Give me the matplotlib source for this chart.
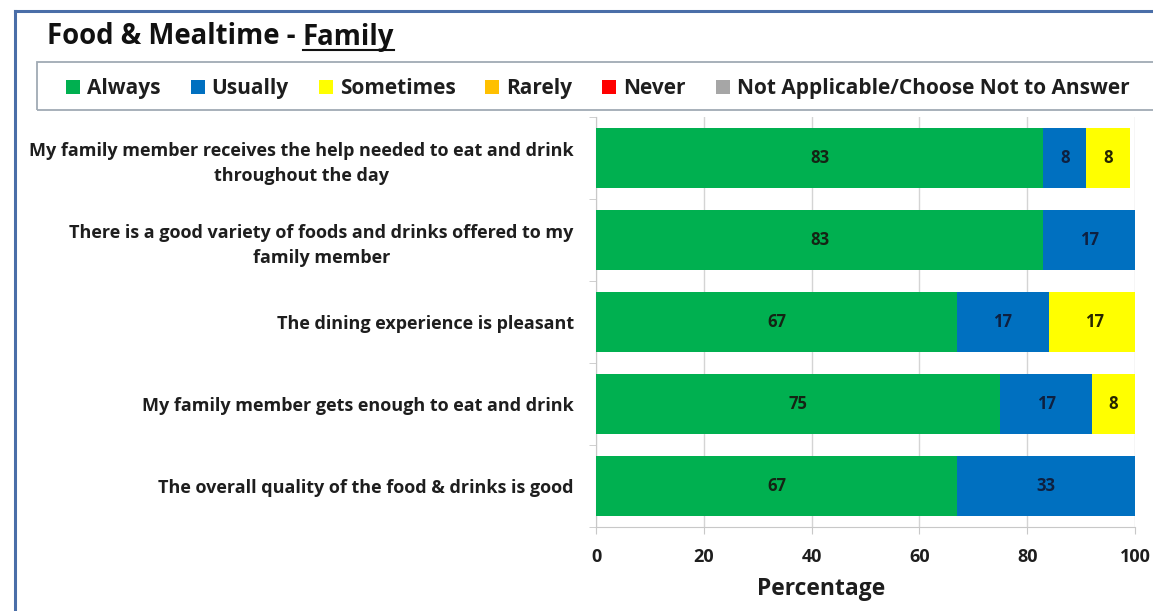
import matplotlib.pyplot as plt
from matplotlib.patches import Rectangle
from matplotlib.lines import Line2D
import numpy as np

questions = [
    "My family member receives the help needed to eat and drink\nthroughout the day",
    "There is a good variety of foods and drinks offered to my\nfamily member",
    "The dining experience is pleasant",
    "My family member gets enough to eat and drink",
    "The overall quality of the food & drinks is good",
]
responses = ["Always", "Usually", "Sometimes", "Rarely", "Never",
             "Not Applicable/Choose Not to Answer"]
always = [83, 83, 67, 75, 67]
usually = [8, 17, 17, 17, 33]
sometimes = [8, 0, 17, 8, 0]
rarely = [0, 0, 0, 0, 0]
never = [0, 0, 0, 0, 0]
not_applicable = [0, 0, 0, 0, 0]

colors = ["#00B050", "#0070C0", "#FFFF00", "#FFC000", "#FF0000", "#A6A6A6"]
label_colors = ["#142414", "#0E2040", "#262600", "#262600", "#262600", "#262600"]
W, H = 1153, 611


def px(x, y):
    # pixel position from the top-left corner -> figure fraction
    return x / W, 1 - y / H


plt.rcParams["font.family"] = ["Open Sans", "DejaVu Sans"]
plt.rcParams["font.weight"] = "bold"

fig = plt.figure(figsize=(W / 100, H / 100), dpi=100)
ax = fig.add_axes([596 / W, 1 - 527 / H, (1135 - 596) / W, (527 - 117) / H])

series = [always, usually, sometimes, rarely, never, not_applicable]
ypos = np.arange(len(questions))
left = np.zeros(len(questions))
for vals, col, lc in zip(series, colors, label_colors):
    vals = np.array(vals, dtype=float)
    bars = ax.barh(ypos, vals, left=left, height=0.73, color=col, zorder=3)
    for bar, v in zip(bars, vals):
        if v > 0:
            ax.text(bar.get_x() + bar.get_width() / 2, bar.get_y() + bar.get_height() / 2,
                    f"{v:.0f}", ha="center", va="center", fontsize=12,
                    fontweight="bold", color=lc, zorder=4)
    left += vals

ax.set_xlim(0, 100)
ax.set_ylim(len(questions) - 0.5, -0.5)
ax.set_xticks(range(0, 101, 20))
ax.set_yticks(ypos)
ax.set_yticklabels(questions, fontsize=13, fontweight="bold", color="#1E1E1E",
                   ha="right", multialignment="center", linespacing=1.5)
ax.set_yticks(np.arange(-0.5, len(questions), 1), minor=True)
ax.tick_params(axis="y", which="major", length=0, pad=16)
ax.tick_params(axis="y", which="minor", length=5, color="#C8C8C8")
ax.tick_params(axis="x", length=5, color="#C8C8C8", labelsize=13, labelcolor="#1E1E1E", pad=10)
ax.set_xlabel("Percentage", fontsize=16.5, fontweight="bold", color="#1E1E1E")
ax.xaxis.set_label_coords(0.417, -0.123)
ax.grid(axis="x", color="#D4D4D4", linewidth=1.0, zorder=0)
for side in ["top", "right"]:
    ax.spines[side].set_visible(False)
ax.spines["bottom"].set_color("#C8C8C8")
ax.spines["left"].set_color("#C8C8C8")

# chart border, only left and top edges fall inside the frame
fig.add_artist(Line2D([15 / W, 15 / W], [0, 1 - 11 / H], color="#4A6EA8", linewidth=2.2))
fig.add_artist(Line2D([15 / W, 1], [1 - 11 / H, 1 - 11 / H], color="#4A6EA8", linewidth=2.2))

# title, last word underlined
t1 = fig.text(*px(47, 37), "Food & Mealtime - ", fontsize=19.8, fontweight="bold",
              color="#111111", va="center")
fig.canvas.draw()
bb = t1.get_window_extent()
t2 = fig.text(bb.x1 / W, 1 - 37 / H, "Family", fontsize=19.8, fontweight="bold",
              color="#111111", va="center")
fig.canvas.draw()
bb2 = t2.get_window_extent()
fig.add_artist(Line2D([bb2.x0 / W, bb2.x1 / W], [1 - 50 / H] * 2,
                      color="#111111", linewidth=1.5))

# legend: framed row of square swatches, texts on a shared baseline
fig.add_artist(Rectangle(px(37, 110), (1170 - 37) / W, 48 / H,
                         transform=fig.transFigure, facecolor="none",
                         edgecolor="#A0AAB4", linewidth=1.3))
renderer = fig.canvas.get_renderer()
x = 66
for name, col in zip(responses, colors):
    fig.add_artist(Rectangle(px(x, 94), 14 / W, 14 / H, transform=fig.transFigure,
                             facecolor=col, edgecolor="none"))
    t = fig.text(*px(x + 21, 94), name, fontsize=15, fontweight="bold",
                 color="#1E1E1E", va="baseline", ha="left")
    x = t.get_window_extent(renderer).x1 + 30

fig.savefig("out.png", dpi=100)
